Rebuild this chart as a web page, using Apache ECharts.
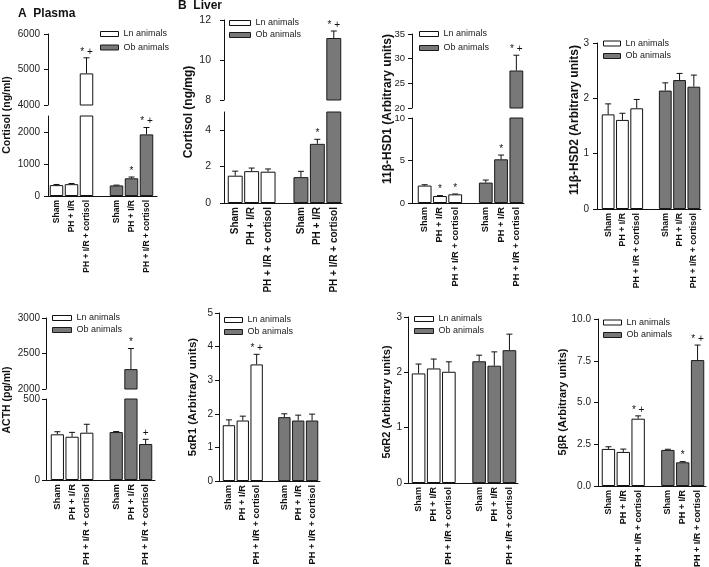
<!DOCTYPE html>
<html><head><meta charset="utf-8">
<script src="https://cdn.jsdelivr.net/npm/echarts@6/dist/echarts.min.js"></script>
<style>html,body{margin:0;padding:0;background:#fff}#c{width:709px;height:567px}</style>
</head><body><div id="c"></div>
<script>
// ---------- DATA ----------
const groups = ['Sham', 'PH + I/R', 'PH + I/R + cortisol'];
const xLabels = [...groups, '', ...groups];
const lnName = 'Ln animals';
const obName = 'Ob animals';

// A Plasma cortisol (ng/ml)
const plasmaCortisolLn = [340, 370, 4890];
const plasmaCortisolLnSem = [20, 20, 440];
const plasmaCortisolOb = [330, 553, 1925];
const plasmaCortisolObSem = [10, 40, 215];
const plasmaCortisolMarks = ['', '', '* +', '', '*', '* +'];
const plasmaTicksUpper = [4000, 5000, 6000];
const plasmaTicksLower = [0, 1000, 2000];

// B Liver cortisol (ng/mg)
const liverCortisolLn = [1.5, 1.75, 1.72];
const liverCortisolLnSem = [0.25, 0.17, 0.15];
const liverCortisolOb = [1.42, 3.25, 11.1];
const liverCortisolObSem = [0.32, 0.25, 0.35];
const liverCortisolMarks = ['', '', '', '', '*', '* +'];
const liverTicksUpper = [8, 10, 12];
const liverTicksLower = [0, 2, 4];

// 11β-HSD1
const hsd1Ln = [2.05, 0.82, 1.02];
const hsd1LnSem = [0.1, 0.05, 0.04];
const hsd1Ob = [2.4, 5.14, 27.6];
const hsd1ObSem = [0.3, 0.5, 3.1];
const hsd1Marks = ['', '*', '*', '', '*', '* +'];
const hsd1TicksUpper = [20, 25, 30, 35];
const hsd1TicksLower = [0, 5, 10];

// 11β-HSD2
const hsd2Ln = [1.71, 1.61, 1.82];
const hsd2LnSem = [0.19, 0.12, 0.16];
const hsd2Ob = [2.14, 2.33, 2.21];
const hsd2ObSem = [0.14, 0.12, 0.21];
const hsd2Marks = ['', '', '', '', '', ''];
const hsd2Ticks = [0, 1, 2, 3];

// ACTH (pg/ml)
const acthLn = [282, 267, 292];
const acthLnSem = [16, 27, 52];
const acthOb = [296, 2280, 222];
const acthObSem = [3, 290, 29];
const acthMarks = ['', '', '', '', '*', '+'];
const acthTicksUpper = [2000, 2500, 3000];
const acthTicksLower = [0, 500];

// 5αR1
const r1Ln = [1.66, 1.8, 3.47];
const r1LnSem = [0.16, 0.13, 0.3];
const r1Ob = [1.9, 1.8, 1.8];
const r1ObSem = [0.1, 0.16, 0.19];
const r1Marks = ['', '', '* +', '', '', ''];
const r1Ticks = [0, 1, 2, 3, 4, 5];

// 5αR2
const r2Ln = [1.98, 2.07, 2.01];
const r2LnSem = [0.17, 0.17, 0.18];
const r2Ob = [2.2, 2.12, 2.4];
const r2ObSem = [0.11, 0.25, 0.29];
const r2Marks = ['', '', '', '', '', ''];
const r2Ticks = [0, 1, 2, 3];

// 5βR
const bRLn = [2.22, 2.04, 4.03];
const bRLnSem = [0.13, 0.17, 0.17];
const bROb = [2.16, 1.42, 7.54];
const bRObSem = [0.04, 0.04, 0.9];
const bRMarks = ['', '', '* +', '', '*', '* +'];
const bRTicks = [0, 2.5, 5, 7.5, 10];

// ---------- PANELS (layout in px) ----------
const panels = [
  {ln: plasmaCortisolLn, lnSem: plasmaCortisolLnSem, ob: plasmaCortisolOb, obSem: plasmaCortisolObSem, marks: plasmaCortisolMarks,
   axisX: 48, axisR: 157, barL: 49, barR: 154, margin: 8, tickFont: 10, xFont: 8.5,
   segs: [{top: 34, bottom: 105, min: 4000, max: 6000, ticks: plasmaTicksUpper},
          {top: 116, bottom: 196, min: 0, max: 2500, ticks: plasmaTicksLower}],
   legend: {x: 100, y: 28.5, w: 18, gap: 2.5},
   yName: {text: 'Cortisol (ng/ml)', x: 7, y: 115, size: 10.5}},
  {ln: liverCortisolLn, lnSem: liverCortisolLnSem, ob: liverCortisolOb, obSem: liverCortisolObSem, marks: liverCortisolMarks,
   axisX: 224, axisR: 342, barL: 227, barR: 342, margin: 13, tickFont: 10.5, xFont: 10,
   segs: [{top: 20, bottom: 100, min: 8, max: 12, ticks: liverTicksUpper},
          {top: 112, bottom: 203, min: 0, max: 5, ticks: liverTicksLower}],
   legend: {x: 229, y: 17.5, w: 21, gap: 1},
   yName: {text: 'Cortisol (ng/mg)', x: 189, y: 112, size: 12}},
  {ln: hsd1Ln, lnSem: hsd1LnSem, ob: hsd1Ob, obSem: hsd1ObSem, marks: hsd1Marks,
   axisX: 412, axisR: 524, barL: 417, barR: 524, margin: 7, tickFont: 9.5, xFont: 9.3,
   segs: [{top: 34, bottom: 108, min: 20, max: 35, ticks: hsd1TicksUpper},
          {top: 118, bottom: 203, min: 0, max: 10, ticks: hsd1TicksLower}],
   legend: {x: 419, y: 28.5, w: 19, gap: 3},
   yName: {text: '11β-HSD1 (Arbitrary units)', x: 388, y: 109, size: 12}},
  {ln: hsd2Ln, lnSem: hsd2LnSem, ob: hsd2Ob, obSem: hsd2ObSem, marks: hsd2Marks,
   axisX: 597, axisR: 701, barL: 601, barR: 701, margin: 8, tickFont: 10, xFont: 8.8,
   segs: [{top: 43, bottom: 209, min: 0, max: 3, ticks: hsd2Ticks}],
   legend: {x: 603, y: 38, w: 17, gap: 1.5},
   yName: {text: '11β-HSD2 (Arbitrary units)', x: 575, y: 120, size: 12}},
  {ln: acthLn, lnSem: acthLnSem, ob: acthOb, obSem: acthObSem, marks: acthMarks,
   axisX: 46, axisR: 155, barL: 50, barR: 153, margin: 6, tickFont: 10, xFont: 9.5,
   segs: [{top: 318, bottom: 389, min: 2000, max: 3000, ticks: acthTicksUpper},
          {top: 399, bottom: 480, min: 0, max: 500, ticks: acthTicksLower}],
   legend: {x: 52, y: 312.5, w: 19, gap: 1},
   yName: {text: 'ACTH (pg/ml)', x: 7, y: 400, size: 10.5}},
  {ln: r1Ln, lnSem: r1LnSem, ob: r1Ob, obSem: r1ObSem, marks: r1Marks,
   axisX: 219, axisR: 320, barL: 222, barR: 319, margin: 6, tickFont: 10, xFont: 9.3,
   segs: [{top: 313, bottom: 481, min: 0, max: 5, ticks: r1Ticks}],
   legend: {x: 224, y: 314.5, w: 18, gap: 1},
   yName: {text: '5αR1 (Arbitrary units)', x: 193, y: 397, size: 11.5}},
  {ln: r2Ln, lnSem: r2LnSem, ob: r2Ob, obSem: r2ObSem, marks: r2Marks,
   axisX: 408, axisR: 518, barL: 411, barR: 517, margin: 6, tickFont: 10, xFont: 9.1,
   segs: [{top: 317, bottom: 483, min: 0, max: 3, ticks: r2Ticks}],
   legend: {x: 414, y: 313.5, w: 19, gap: 1},
   yName: {text: '5αR2 (Arbitrary units)', x: 387, y: 402, size: 11}},
  {ln: bRLn, lnSem: bRLnSem, ob: bROb, obSem: bRObSem, marks: bRMarks,
   axisX: 598, axisR: 706, barL: 601, barR: 705, margin: 7, tickFont: 10, fixed: 1, xFont: 9,
   segs: [{top: 319, bottom: 486, min: 0, max: 10, ticks: bRTicks}],
   legend: {x: 603, y: 317, w: 18, gap: 1.5},
   yName: {text: '5βR (Arbitrary units)', x: 563, y: 402, size: 11}}
];

const FONT = '"Liberation Sans", Arial, sans-serif';
const option = {
  animation: false,
  textStyle: {fontFamily: FONT},
  grid: [], xAxis: [], yAxis: [], series: [], legend: [],
  graphic: [
    {type: 'text', x: 18, y: 14, style: {text: 'A  Plasma', font: 'bold 12px ' + FONT, fill: '#111', verticalAlign: 'middle'}},
    {type: 'text', x: 178, y: 6, style: {text: 'B  Liver', font: 'bold 12px ' + FONT, fill: '#111', verticalAlign: 'middle'}}
  ]
};
const lineCol = '#111';

panels.forEach(p => {
  const slot = (p.barR - p.barL) / 7;
  const bw = slot - 1.5;
  p.segs.forEach((s, si) => {
    const isBottom = si === p.segs.length - 1;
    const h = s.bottom - s.top;
    // frame grid: y axis + x axis line
    const fg = option.grid.length;
    option.grid.push({left: p.axisX, top: s.top, width: p.axisR - p.axisX, height: h,
      containLabel: false, outerBoundsMode: 'none'});
    option.xAxis.push({gridIndex: fg, type: 'value', min: 0, max: 1, show: isBottom,
      axisLine: {show: true, onZero: false, lineStyle: {color: lineCol, width: 1}},
      axisTick: {show: false}, axisLabel: {show: false}, splitLine: {show: false}});
    option.yAxis.push({gridIndex: fg, type: 'value', min: s.min, max: s.max,
      axisLine: {show: true, lineStyle: {color: lineCol, width: 1}},
      axisTick: {show: true, length: 4, customValues: s.ticks, lineStyle: {color: lineCol}},
      axisLabel: {customValues: s.ticks, fontSize: p.tickFont, color: '#222', margin: p.margin,
        formatter: v => p.fixed ? Number(v).toFixed(p.fixed) : String(v)},
      splitLine: {show: false}});
    // bar grid
    const bg = option.grid.length;
    option.grid.push({left: p.barL, top: s.top, width: p.barR - p.barL, height: h,
      containLabel: false, outerBoundsMode: 'none'});
    option.xAxis.push({gridIndex: bg, type: 'category', data: xLabels, show: isBottom,
      axisLine: {show: false}, axisTick: {show: false},
      axisLabel: {rotate: 90, interval: 0, fontWeight: 'bold', fontSize: p.xFont, margin: 4, color: '#111'}});
    option.yAxis.push({gridIndex: bg, type: 'value', min: s.min, max: s.max, show: false});
    const xi = option.xAxis.length - 1, yi = option.yAxis.length - 1;
    option.series.push({type: 'bar', name: lnName, xAxisIndex: xi, yAxisIndex: yi, silent: true,
      data: [...p.ln, '-', '-', '-', '-'], barWidth: bw, barGap: '-100%', clip: true,
      itemStyle: {color: '#ffffff', borderColor: lineCol, borderWidth: 1}});
    option.series.push({type: 'bar', name: obName, xAxisIndex: xi, yAxisIndex: yi, silent: true,
      data: ['-', '-', '-', '-', ...p.ob], barWidth: bw, barGap: '-100%', clip: true,
      itemStyle: {color: '#787878', borderColor: '#1a1a1a', borderWidth: 1}});
    const err = [];
    p.ln.forEach((v, i) => err.push([i, v, p.lnSem[i], p.marks[i]]));
    p.ob.forEach((v, i) => err.push([i + 4, v, p.obSem[i], p.marks[i + 3]]));
    const segMin = s.min, segMax = s.max;
    option.series.push({type: 'custom', name: 'err', xAxisIndex: xi, yAxisIndex: yi, silent: true,
      data: err.map(d => [d[0], d[1], d[2]]),
      renderItem: (params, api) => {
        const d = err[params.dataIndex];
        if (d[1] < segMin || d[1] + d[2] > segMax) return {type: 'group', children: []};
        const base = api.coord([d[0], d[1]]);
        const top = api.coord([d[0], d[1] + d[2]]);
        const cap = 3;
        const ch = [
          {type: 'line', shape: {x1: base[0], y1: base[1], x2: top[0], y2: top[1]}, style: {stroke: lineCol, lineWidth: 1}},
          {type: 'line', shape: {x1: top[0] - cap, y1: top[1], x2: top[0] + cap, y2: top[1]}, style: {stroke: lineCol, lineWidth: 1}}
        ];
        if (d[3]) ch.push({type: 'text', x: top[0], y: top[1] - 1,
          style: {text: d[3], font: '10px ' + FONT, fill: '#111', align: 'center', verticalAlign: 'bottom'}});
        return {type: 'group', children: ch};
      }});
  });
  option.legend.push({left: p.legend.x, top: p.legend.y, orient: 'vertical', padding: 0,
    itemWidth: p.legend.w, itemHeight: 5, itemGap: p.legend.gap, selectedMode: false, icon: 'rect',
    textStyle: {fontSize: 9, color: '#222', lineHeight: 11},
    data: [{name: lnName, itemStyle: {color: '#ffffff', borderColor: lineCol, borderWidth: 1}},
           {name: obName, itemStyle: {color: '#787878', borderColor: '#1a1a1a', borderWidth: 1}}]});
  option.graphic.push({type: 'text', x: p.yName.x, y: p.yName.y, rotation: Math.PI / 2,
    style: {text: p.yName.text, font: 'bold ' + p.yName.size + 'px ' + FONT, fill: '#111', align: 'center', verticalAlign: 'middle'}});
});

const chart = echarts.init(document.getElementById('c'), null, {renderer: 'canvas'});
chart.setOption(option);
</script>
</body></html>
